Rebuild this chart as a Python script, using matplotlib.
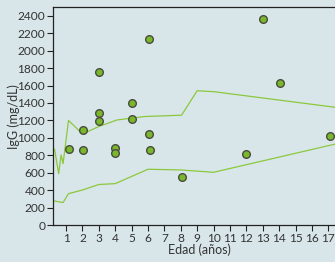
import matplotlib
matplotlib.use("Agg")
import matplotlib.pyplot as plt

# Scatter data: age (years) vs IgG (mg/dL)
age_pts = [1.15, 2.05, 2.05, 3.0, 3.0, 3.0, 4.0, 4.0, 5.0, 5.0, 6.05, 6.05, 6.1, 8.1, 12.0, 13.0, 14.05, 17.1]
igg_pts = [872, 1090, 857, 1760, 1285, 1198, 880, 827, 1405, 1220, 2135, 1042, 857, 548, 815, 2362, 1628, 1022]

# Upper reference curve
upper_x = [0.3, 0.55, 0.7, 0.82, 1.15, 2.0, 3.0, 4.1, 5.8, 8.05, 9.0, 10.0, 17.45]
upper_y = [870, 590, 805, 705, 1200, 1045, 1130, 1205, 1245, 1260, 1540, 1530, 1350]

# Lower reference curve
lower_x = [0.25, 0.5, 0.82, 1.15, 2.0, 3.0, 4.0, 6.0, 8.0, 10.0, 17.45]
lower_y = [279, 268, 258, 360, 402, 465, 475, 640, 632, 605, 930]

xticks = list(range(1, 18))
yticks = list(range(0, 2401, 200))

bg = "#d8e6ea"
line_c = "#8cc83c"
txt_c = "#333333"

fig = plt.figure(figsize=(3.35, 2.62), dpi=100, facecolor=bg)
ax = fig.add_axes([0.158, 0.141, 0.842, 0.832], facecolor=bg)

ax.plot(upper_x, upper_y, color=line_c, lw=0.9, zorder=2)
ax.plot(lower_x, lower_y, color=line_c, lw=0.9, zorder=2)
ax.plot(age_pts, igg_pts, linestyle="none", marker="o", markersize=5.5,
        markerfacecolor="#78b82a", markeredgecolor="#4a4a40", markeredgewidth=1.0, zorder=3)

ax.set_xlim(0.2, 17.41)
ax.set_ylim(0, 2500)
ax.set_xticks(xticks)
ax.set_yticks(yticks)

font = "Lato"
ax.tick_params(axis="both", direction="out", length=4, width=0.8, color="#222222",
               labelsize=8.6, labelcolor=txt_c, pad=1.5)
for lab in ax.get_xticklabels() + ax.get_yticklabels():
    lab.set_fontfamily(font)

for s in ["left", "bottom", "top"]:
    ax.spines[s].set_color("#222222")
    ax.spines[s].set_linewidth(0.9)
ax.spines["right"].set_visible(False)

ax.set_xlabel("Edad (años)", fontsize=9, color=txt_c, family=font)
ax.set_ylabel("IgG (mg/dL)", fontsize=9, color=txt_c, family=font)
ax.xaxis.set_label_coords(0.52, -0.085)
ax.yaxis.set_label_coords(-0.118, 0.5)

fig.savefig("out.png", dpi=100, facecolor=bg)
